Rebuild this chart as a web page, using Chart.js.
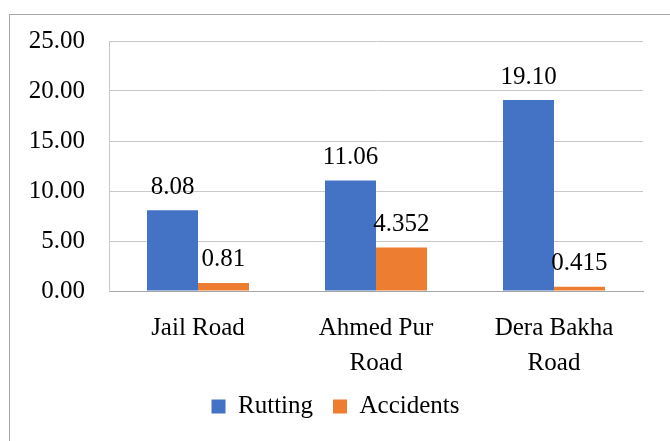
<!DOCTYPE html>
<html>
<head>
<meta charset="utf-8">
<script src="https://cdn.jsdelivr.net/npm/chart.js@4.4.0/dist/chart.umd.min.js"></script>
<style>
  html, body { margin: 0; padding: 0; background: #fff; overflow: hidden; }
  #frame { position: absolute; left: 9px; top: 14px; width: 720px; height: 520px; border: 1px solid #a6a6a6; }
  #wrap { position: absolute; left: 0; top: 0; width: 670px; height: 441px; }
</style>
</head>
<body>
<div id="frame"></div>
<div id="wrap"><canvas id="chart" width="670" height="441"></canvas></div>
<script>
const roads = ['Jail Road', ['Ahmed Pur', 'Road'], ['Dera Bakha', 'Road']];
const rutting = [8.08, 11.06, 19.10];
const accidents = [0.81, 4.352, 0.415];
const ruttingLabels = ['8.08', '11.06', '19.10'];
const accidentLabels = ['0.81', '4.352', '0.415'];
const yTicks = [0, 5, 10, 15, 20, 25];

const FONT = "'Liberation Serif', 'Times New Roman', serif";
const SIZE = 25;

// draws the value above every bar
const barValues = {
  id: 'barValues',
  afterDatasetsDraw(chart) {
    const ctx = chart.ctx;
    ctx.save();
    ctx.font = SIZE + 'px ' + FONT;
    ctx.fillStyle = '#000';
    ctx.textAlign = 'center';
    ctx.textBaseline = 'middle';
    chart.data.datasets.forEach((ds, i) => {
      chart.getDatasetMeta(i).data.forEach((bar, j) => {
        ctx.fillText(ds.valueLabels[j], bar.x, bar.y - 23);
      });
    });
    ctx.restore();
  }
};

new Chart(document.getElementById('chart'), {
  type: 'bar',
  data: {
    labels: roads,
    datasets: [
      { label: 'Rutting', data: rutting, valueLabels: ruttingLabels, backgroundColor: '#4472C4' },
      { label: 'Accidents', data: accidents, valueLabels: accidentLabels, backgroundColor: '#ED7D31' }
    ]
  },
  options: {
    responsive: false,
    animation: false,
    layout: { padding: { top: 41, right: 27, bottom: 12, left: 28 } },
    datasets: { bar: { barPercentage: 1, categoryPercentage: 0.573 } },
    plugins: {
      tooltip: { enabled: false },
      legend: {
        position: 'bottom',
        labels: {
          font: { family: FONT, size: SIZE },
          color: '#000',
          boxWidth: 14,
          boxHeight: 14,
          padding: 20
        }
      }
    },
    scales: {
      x: {
        grid: { display: false, drawTicks: false },
        border: { color: '#a6a6a6' },
        ticks: {
          font: { family: FONT, size: SIZE, lineHeight: 1.4 },
          color: '#000',
          padding: 20,
          maxRotation: 0
        },
        afterFit(scale) { scale.height = 83; }
      },
      y: {
        min: 0,
        max: 25,
        afterBuildTicks(scale) { scale.ticks = yTicks.map(v => ({ value: v })); },
        grid: { color: '#c8c8c8', drawTicks: false },
        border: { color: '#c8c8c8' },
        ticks: {
          font: { family: FONT, size: SIZE },
          color: '#000',
          padding: 24,
          callback: v => v.toFixed(2)
        },
        afterFit(scale) { scale.width = 81; }
      }
    }
  },
  plugins: [barValues]
});
</script>
</body>
</html>
